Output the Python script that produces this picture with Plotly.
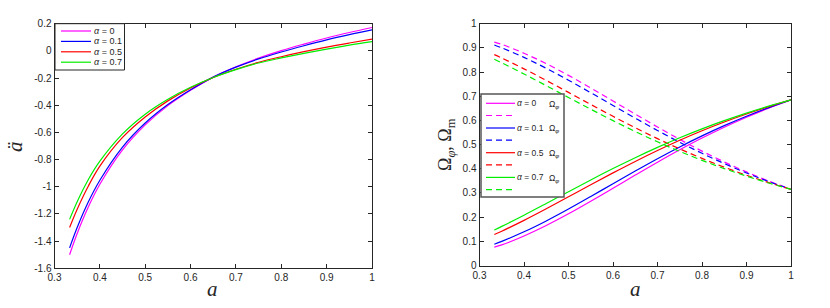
import plotly.graph_objects as go

# ---------------- data ----------------
a_left = [0.3333, 0.35, 0.375, 0.4, 0.45, 0.5, 0.55, 0.6, 0.65, 0.7, 0.75, 0.8, 0.85, 0.9, 0.95, 1.0]
addot_a0 = [-1.500, -1.344, -1.146, -0.982, -0.729, -0.545, -0.403, -0.290, -0.193, -0.117, -0.053, 0.002, 0.050, 0.095, 0.135, 0.172]
addot_a01 = [-1.450, -1.300, -1.109, -0.952, -0.708, -0.531, -0.395, -0.286, -0.193, -0.120, -0.059, -0.008, 0.038, 0.081, 0.119, 0.154]
addot_a05 = [-1.300, -1.165, -0.992, -0.848, -0.637, -0.486, -0.368, -0.273, -0.196, -0.135, -0.084, -0.043, -0.006, 0.028, 0.058, 0.086]
addot_a07 = [-1.240, -1.110, -0.945, -0.812, -0.611, -0.466, -0.356, -0.268, -0.196, -0.138, -0.089, -0.052, -0.018, 0.013, 0.042, 0.068]

a_right = [0.3333, 0.35, 0.4, 0.45, 0.5, 0.55, 0.6, 0.65, 0.7, 0.75, 0.8, 0.85, 0.9, 0.95, 1.0]
ophi_a0 = [0.076, 0.0853, 0.1222, 0.1654, 0.2137, 0.2657, 0.3196, 0.3739, 0.4272, 0.4785, 0.527, 0.5718, 0.613, 0.6509, 0.685]
om_a0 = [0.924, 0.9147, 0.8778, 0.8346, 0.7863, 0.7343, 0.6804, 0.6261, 0.5728, 0.5215, 0.473, 0.4282, 0.387, 0.3491, 0.315]
ophi_a01 = [0.0881, 0.0998, 0.1393, 0.1844, 0.2336, 0.2854, 0.3382, 0.3907, 0.4417, 0.4903, 0.536, 0.5784, 0.6173, 0.6528, 0.685]
om_a01 = [0.9119, 0.9002, 0.8607, 0.8156, 0.7664, 0.7146, 0.6618, 0.6093, 0.5583, 0.5097, 0.464, 0.4216, 0.3827, 0.3472, 0.315]
ophi_a05 = [0.128, 0.1419, 0.1867, 0.2346, 0.2841, 0.334, 0.383, 0.4304, 0.4754, 0.5177, 0.5571, 0.5934, 0.6267, 0.6572, 0.685]
om_a05 = [0.872, 0.8581, 0.8133, 0.7654, 0.7159, 0.666, 0.617, 0.5696, 0.5246, 0.4823, 0.4429, 0.4066, 0.3733, 0.3428, 0.315]
ophi_a07 = [0.1471, 0.1618, 0.208, 0.2563, 0.3053, 0.3538, 0.401, 0.4459, 0.4885, 0.5283, 0.5652, 0.5991, 0.6303, 0.6589, 0.685]
om_a07 = [0.8529, 0.8382, 0.792, 0.7437, 0.6947, 0.6462, 0.599, 0.5541, 0.5115, 0.4717, 0.4348, 0.4009, 0.3697, 0.3411, 0.315]

alpha_labels = ["<i>α</i> = 0", "<i>α</i> = 0.1", "<i>α</i> = 0.5", "<i>α</i> = 0.7"]
colors = ["#ff00ff", "#0000ff", "#ff0000", "#00ee00"]

x_ticks = [0.3, 0.4, 0.5, 0.6, 0.7, 0.8, 0.9, 1.0]
x_ticktext = ["0.3", "0.4", "0.5", "0.6", "0.7", "0.8", "0.9", "1"]
yl_ticks = [0.2, 0, -0.2, -0.4, -0.6, -0.8, -1.0, -1.2, -1.4, -1.6]
yl_ticktext = ["0.2", "0", "-0.2", "-0.4", "-0.6", "-0.8", "-1", "-1.2", "-1.4", "-1.6"]
yr_ticks = [0, 0.1, 0.2, 0.3, 0.4, 0.5, 0.6, 0.7, 0.8, 0.9, 1.0]
yr_ticktext = ["0", "0.1", "0.2", "0.3", "0.4", "0.5", "0.6", "0.7", "0.8", "0.9", "1"]

left_series = [addot_a0, addot_a01, addot_a05, addot_a07]
right_phi = [ophi_a0, ophi_a01, ophi_a05, ophi_a07]
right_m = [om_a0, om_a01, om_a05, om_a07]

# ---------------- figure ----------------
W, H = 830, 308
fig = go.Figure()

for ys, c in zip(left_series, colors):
    fig.add_trace(go.Scatter(x=a_left, y=ys, mode="lines", line=dict(color=c, width=1.2, shape="spline"),
                             xaxis="x", yaxis="y", showlegend=False, hoverinfo="skip"))
for yp, ym, c in zip(right_phi, right_m, colors):
    fig.add_trace(go.Scatter(x=a_right, y=yp, mode="lines", line=dict(color=c, width=1.2, shape="spline"),
                             xaxis="x2", yaxis="y2", showlegend=False, hoverinfo="skip"))
    fig.add_trace(go.Scatter(x=a_right, y=ym, mode="lines",
                             line=dict(color=c, width=1.2, shape="spline", dash="6px,4px"),
                             xaxis="x2", yaxis="y2", showlegend=False, hoverinfo="skip"))

def px(x):
    return x / W

def py(y):
    return 1 - y / H

tickfont = dict(family="Liberation Sans, Arial, sans-serif", size=10, color="#262626")
axis_common = dict(showline=True, mirror="ticks", ticks="inside", ticklen=4, tickcolor="#262626",
                   linecolor="#262626", linewidth=1, showgrid=False, zeroline=False,
                   tickfont=tickfont, automargin=False)

fig.update_layout(
    width=W, height=H, margin=dict(l=0, r=0, t=0, b=0, autoexpand=False),
    paper_bgcolor="white", plot_bgcolor="white", showlegend=False,
    xaxis=dict(domain=[px(54.5), px(372)], range=[0.3, 1.0], anchor="y",
               tickvals=x_ticks, ticktext=x_ticktext, **axis_common),
    yaxis=dict(domain=[py(268.3), py(23.7)], range=[-1.6, 0.2], anchor="x",
               tickvals=yl_ticks, ticktext=yl_ticktext, **axis_common),
    xaxis2=dict(domain=[px(479.5), px(791)], range=[0.3, 1.0], anchor="y2",
                tickvals=x_ticks, ticktext=x_ticktext, **axis_common),
    yaxis2=dict(domain=[py(265.5), py(23.7)], range=[0, 1.0], anchor="x2",
                tickvals=yr_ticks, ticktext=yr_ticktext, **axis_common),
)

shapes = []
annotations = []

# axis titles
serif = "Liberation Serif, DejaVu Serif, serif"
title_font = dict(family=serif, size=21, color="#262626")
annotations.append(dict(x=px(213), y=py(289), xref="paper", yref="paper", text="<i>a</i>",
                        xanchor="center", yanchor="middle", showarrow=False, font=title_font))
annotations.append(dict(x=px(635), y=py(289), xref="paper", yref="paper", text="<i>a</i>",
                        xanchor="center", yanchor="middle", showarrow=False, font=title_font))
annotations.append(dict(x=px(15), y=py(147), xref="paper", yref="paper", text="<i>ä</i>",
                        xanchor="center", yanchor="middle", textangle=-90, showarrow=False, font=title_font))
annotations.append(dict(x=px(446), y=py(145), xref="paper", yref="paper",
                        text="Ω<sub><i>φ</i></sub>, Ω<sub>m</sub>", xanchor="center", yanchor="middle",
                        textangle=-90, showarrow=False, font=dict(family=serif, size=18, color="#262626")))

# left legend (manual)
shapes.append(dict(type="rect", xref="paper", yref="paper", x0=px(55), x1=px(124.5), y0=py(70), y1=py(23.7),
                   line=dict(color="#262626", width=1), fillcolor="white", layer="above"))
leg_font = dict(family="Liberation Sans, Arial, sans-serif", size=9, color="#262626")
for i, (lab, c) in enumerate(zip(alpha_labels, colors)):
    yy = 31 + i * 10.4
    shapes.append(dict(type="line", xref="paper", yref="paper", x0=px(61), x1=px(91), y0=py(yy), y1=py(yy),
                       line=dict(color=c, width=1.2), layer="above"))
    annotations.append(dict(x=px(92), y=py(yy), xref="paper", yref="paper", text=lab, xanchor="left",
                            yanchor="middle", showarrow=False, font=leg_font))

# right legend (manual)
shapes.append(dict(type="rect", xref="paper", yref="paper", x0=px(481), x1=px(564), y0=py(197), y1=py(94),
                   line=dict(color="#555555", width=1.5), fillcolor="white", layer="above"))
leg_font_r = dict(family="Liberation Sans, Arial, sans-serif", size=8.5, color="#262626")
for i, (lab, c) in enumerate(zip(alpha_labels, colors)):
    y_s = 103.3 + i * 24.7
    y_d = y_s + 12.2
    shapes.append(dict(type="line", xref="paper", yref="paper", x0=px(486), x1=px(515), y0=py(y_s), y1=py(y_s),
                       line=dict(color=c, width=1.2), layer="above"))
    shapes.append(dict(type="line", xref="paper", yref="paper", x0=px(486), x1=px(515), y0=py(y_d), y1=py(y_d),
                       line=dict(color=c, width=1.2, dash="6px,4px"), layer="above"))
    annotations.append(dict(x=px(515), y=py(y_s), xref="paper", yref="paper", text=lab, xanchor="left",
                            yanchor="middle", showarrow=False, font=leg_font_r))
    annotations.append(dict(x=px(547), y=py(y_s + 1), xref="paper", yref="paper", text="Ω<sub><i>φ</i></sub>",
                            xanchor="left", yanchor="middle", showarrow=False, font=leg_font_r))

fig.update_layout(shapes=shapes, annotations=annotations)

fig.write_html("out.html", config={"displayModeBar": False},
               post_script="document.body.style.margin='0';document.body.style.padding='0';")
